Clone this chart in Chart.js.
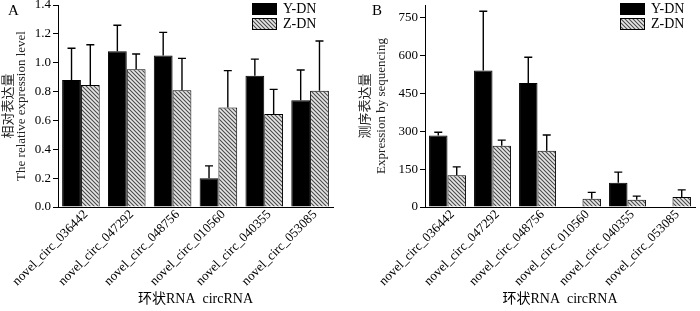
<!DOCTYPE html>
<html>
<head>
<meta charset="utf-8">
<script src="https://cdn.jsdelivr.net/npm/chart.js@4.4.0/dist/chart.umd.min.js"></script>
<style>
  html, body { margin: 0; padding: 0; background: #fff; }
  #wrap { position: relative; width: 700px; height: 311px; }
  .box { position: absolute; top: 0; width: 350px; height: 311px; }
</style>
</head>
<body>
<div id="wrap">
  <div class="box" style="left:0"><canvas id="chartA"></canvas></div>
  <div class="box" style="left:350px"><canvas id="chartB"></canvas></div>
</div>
<script>
// datos
const categories = ['novel_circ_036442', 'novel_circ_047292', 'novel_circ_048756', 'novel_circ_010560', 'novel_circ_040355', 'novel_circ_053085'];
const seriesNames = ['Y-DN', 'Z-DN'];

// panel A: nivel de expresion relativo
const relY = [0.88, 1.08, 1.05, 0.20, 0.91, 0.74];
const relYErr = [0.22, 0.18, 0.16, 0.085, 0.115, 0.21];
const relZ = [0.845, 0.955, 0.81, 0.69, 0.645, 0.805];
const relZErr = [0.28, 0.105, 0.22, 0.255, 0.17, 0.345];
const relTicks = [0, 0.2, 0.4, 0.6, 0.8, 1.0, 1.2, 1.4];

// panel B: expresion por secuenciacion
const seqY = [283, 541, 491, 0, 96, 0];
const seqYErr = [13, 234, 102, 0, 42, 0];
const seqZ = [126, 243, 223, 33, 29, 40];
const seqZErr = [33, 22, 62, 25, 14, 28];
const seqTicks = [0, 150, 300, 450, 600, 750];

const FONT = "'Liberation Serif', 'Times New Roman', 'Noto Sans CJK SC', serif";

function hatchPattern() {
    const c = document.createElement('canvas');
    c.width = 4; c.height = 4;
    const x = c.getContext('2d');
    x.fillStyle = '#e6e6e6';
    x.fillRect(0, 0, 4, 4);
    x.strokeStyle = '#4a4a4a';
    x.lineWidth = 1.1;
    x.beginPath();
    x.moveTo(-1, -1); x.lineTo(5, 5);
    x.moveTo(-1, 3); x.lineTo(1, 5);
    x.moveTo(3, -1); x.lineTo(5, 1);
    x.stroke();
    return x.createPattern(c, 'repeat');
}

// barras de error (solo hacia arriba)
const errorBars = {
    id: 'errorBars',
    afterDatasetsDraw(chart) {
        const ctx = chart.ctx;
        const yScale = chart.scales.y;
        chart.data.datasets.forEach((ds, i) => {
            const meta = chart.getDatasetMeta(i);
            meta.data.forEach((bar, j) => {
                const err = ds.errors[j];
                if (!err) return;
                const yTop = yScale.getPixelForValue(ds.data[j] + err);
                ctx.save();
                ctx.strokeStyle = '#000';
                ctx.lineWidth = 1.4;
                ctx.beginPath();
                ctx.moveTo(bar.x, bar.y);
                ctx.lineTo(bar.x, yTop);
                ctx.moveTo(bar.x - 4, yTop);
                ctx.lineTo(bar.x + 4, yTop);
                ctx.stroke();
                ctx.restore();
            });
        });
    }
};

// leyenda y letra del panel
const panelDecor = {
    id: 'panelDecor',
    afterDraw(chart, args, opts) {
        const ctx = chart.ctx;
        const right = chart.chartArea.right;
        ctx.save();
        ctx.font = '15px ' + FONT;
        ctx.fillStyle = '#000';
        ctx.textBaseline = 'middle';
        ctx.fillText(opts.letter, opts.letterX, 11);
        ctx.font = '14px ' + FONT;
        chart.data.datasets.forEach((ds, i) => {
            const bx = right - opts.legendOffset;
            const by = 3 + i * 15;
            ctx.fillStyle = ds.backgroundColor;
            ctx.fillRect(bx, by, 25, 12);
            ctx.strokeStyle = '#000';
            ctx.lineWidth = 1;
            ctx.strokeRect(bx + 0.5, by + 0.5, 24, 11);
            ctx.fillStyle = '#000';
            ctx.fillText(ds.label, bx + 31, by + 6.5);
        });
        ctx.restore();
    }
};

function makeChart(id, dataY, errY, dataZ, errZ, tickList, maxVal, fmt, yTitle, titleLH, yWidth, padLeft, padRight, letter, letterX, legendOffset) {
    const ctx = document.getElementById(id).getContext('2d');
    return new Chart(ctx, {
        type: 'bar',
        data: {
            labels: categories,
            datasets: [
                {
                    label: seriesNames[0],
                    data: dataY,
                    errors: errY,
                    backgroundColor: '#000',
                    borderColor: '#000',
                    borderWidth: 1
                },
                {
                    label: seriesNames[1],
                    data: dataZ,
                    errors: errZ,
                    backgroundColor: hatchPattern(),
                    borderColor: '#000',
                    borderWidth: 1
                }
            ]
        },
        options: {
            responsive: false,
            animation: false,
            devicePixelRatio: 1,
            layout: { padding: { top: 5, right: padRight, bottom: 0, left: padLeft } },
            plugins: {
                legend: { display: false },
                tooltip: { enabled: false },
                panelDecor: { letter: letter, letterX: letterX, legendOffset: legendOffset }
            },
            datasets: { bar: { categoryPercentage: 0.82, barPercentage: 1.0 } },
            scales: {
                x: {
                    grid: { display: false },
                    border: { color: '#000', width: 1 },
                    ticks: {
                        color: '#000',
                        font: { family: FONT, size: 13 },
                        maxRotation: 45,
                        minRotation: 45,
                        autoSkip: false,
                        labelOffset: 5,
                        padding: -8
                    },
                    title: {
                        display: true,
                        text: '环状RNA  circRNA',
                        color: '#000',
                        font: { family: FONT, size: 14 },
                        padding: { top: 0, bottom: 3 }
                    },
                    afterFit(scale) { scale.height = 104; }
                },
                y: {
                    min: 0,
                    max: maxVal,
                    grid: { drawOnChartArea: false, drawTicks: true, tickLength: 5, color: '#000' },
                    border: { color: '#000', width: 1 },
                    afterBuildTicks(scale) {
                        scale.ticks = tickList.map(v => ({ value: v }));
                    },
                    ticks: {
                        color: '#000',
                        font: { family: FONT, size: 13 },
                        padding: 2,
                        callback: fmt
                    },
                    title: {
                        display: true,
                        text: yTitle,
                        color: '#222',
                        font: { family: FONT, size: 13, lineHeight: titleLH },
                        padding: { top: 0, bottom: 2 }
                    },
                    afterFit(scale) {
                        scale.width = yWidth - padLeft;
                        scale.paddingTop = 0;
                    }
                }
            }
        },
        plugins: [errorBars, panelDecor]
    });
}

document.getElementById('chartA').width = 350;
document.getElementById('chartA').height = 311;
document.getElementById('chartB').width = 350;
document.getElementById('chartB').height = 311;

makeChart('chartA', relY, relYErr, relZ, relZErr, relTicks, 1.4,
    v => v.toFixed(1), ['相对表达量', 'The relative expression level'], 1.0, 58, 2, 17, 'A', 8, 81);
makeChart('chartB', seqY, seqYErr, seqZ, seqZErr, seqTicks, 800,
    v => String(v), ['测序表达量', 'Expression by sequencing'], 1.2, 75, 8, 5, 'B', 22, 75);
</script>
</body>
</html>
